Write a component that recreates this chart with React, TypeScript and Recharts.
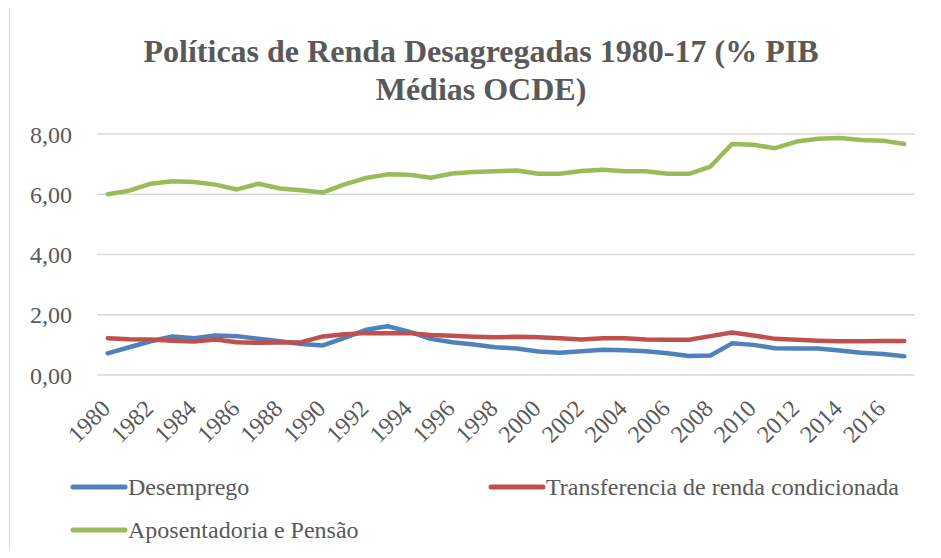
import React from "react";
import { LineChart, Line, XAxis, YAxis, CartesianGrid, Legend } from "recharts";

const years = [
  "1980", "1981", "1982", "1983", "1984", "1985", "1986", "1987", "1988", "1989",
  "1990", "1991", "1992", "1993", "1994", "1995", "1996", "1997", "1998", "1999",
  "2000", "2001", "2002", "2003", "2004", "2005", "2006", "2007", "2008", "2009",
  "2010", "2011", "2012", "2013", "2014", "2015", "2016", "2017",
];

const desemprego = [
  0.72, 0.92, 1.12, 1.28, 1.22, 1.31, 1.29, 1.2, 1.12, 1.03,
  0.98, 1.23, 1.5, 1.62, 1.44, 1.2, 1.09, 1.01, 0.92, 0.88,
  0.78, 0.74, 0.79, 0.84, 0.82, 0.79, 0.72, 0.63, 0.65, 1.05,
  1.0, 0.89, 0.88, 0.88, 0.81, 0.74, 0.7, 0.62,
];

const transferencia = [
  1.22, 1.19, 1.18, 1.14, 1.11, 1.18, 1.09, 1.07, 1.08, 1.09,
  1.28, 1.35, 1.39, 1.39, 1.39, 1.33, 1.3, 1.27, 1.25, 1.27,
  1.25, 1.22, 1.18, 1.22, 1.22, 1.18, 1.17, 1.17, 1.29, 1.41,
  1.31, 1.2, 1.17, 1.14, 1.12, 1.12, 1.13, 1.13,
];

const aposentadoria = [
  6.0, 6.12, 6.35, 6.43, 6.41, 6.32, 6.16, 6.35, 6.19, 6.13,
  6.06, 6.33, 6.54, 6.66, 6.65, 6.55, 6.69, 6.74, 6.76, 6.79,
  6.68, 6.68, 6.77, 6.81, 6.76, 6.76, 6.68, 6.68, 6.92, 7.67,
  7.64, 7.53, 7.75, 7.84, 7.87, 7.8, 7.78, 7.67,
];

const yTicks = [0, 2, 4, 6, 8];

const series = [
  { key: "desemprego", name: "Desemprego", color: "#4f81bd" },
  { key: "transferencia", name: "Transferencia de renda condicionada", color: "#c0504d" },
  { key: "aposentadoria", name: "Aposentadoria e Pensão", color: "#9bbb59" },
];

const data = years.map((year, i) => ({
  year,
  desemprego: desemprego[i],
  transferencia: transferencia[i],
  aposentadoria: aposentadoria[i],
}));

const FONT = '"Liberation Serif", "Times New Roman", serif';
const TEXT = "#595959";

const fmt = (v: number) => v.toFixed(2).replace(".", ",");

// rotated year labels, anchored at their right end
const YearTick = (props: any) => {
  const { x, y, payload } = props;
  const tx = x + 4;
  const ty = y + 27;
  return (
    <text
      x={tx}
      y={ty}
      transform={`rotate(-45, ${tx}, ${ty})`}
      textAnchor="end"
      fill={TEXT}
      fontSize={24}
      fontFamily={FONT}
    >
      {payload.value}
    </text>
  );
};

const legendSpots = [
  { left: 70, top: 475 },
  { left: 488, top: 475 },
  { left: 70, top: 518 },
];

const ChartLegend = () => (
  <div style={{ position: "relative", width: 941, height: 558 }}>
    {series.map((s, i) => (
      <div
        key={s.key}
        style={{
          position: "absolute",
          left: legendSpots[i].left,
          top: legendSpots[i].top,
          display: "flex",
          alignItems: "center",
          height: 24,
          fontFamily: FONT,
          fontSize: 24,
          color: TEXT,
          whiteSpace: "nowrap",
        }}
      >
        <svg width={58} height={8} style={{ display: "block" }}>
          <line x1={3} y1={4} x2={55} y2={4} stroke={s.color} strokeWidth={5} strokeLinecap="round" />
        </svg>
        <span>{s.name}</span>
      </div>
    ))}
  </div>
);

export default function App() {
  return (
    <div
      style={{
        position: "relative",
        width: 941,
        height: 558,
        margin: -8,
        overflow: "hidden",
        background: "#fff",
      }}
    >
      <div
        style={{
          position: "absolute",
          left: -4,
          top: -18,
          fontFamily: FONT,
          fontStyle: "italic",
          fontSize: 24,
          lineHeight: "24px",
          color: "#000",
          whiteSpace: "nowrap",
        }}
      >
        Políticas de renda desagregadas.
      </div>
      <div
        style={{
          position: "absolute",
          left: 9,
          top: 7,
          width: 1100,
          height: 700,
          border: "1px solid #d9d9d9",
        }}
      />
      <div
        style={{
          position: "absolute",
          left: 0,
          top: 32,
          width: 962,
          textAlign: "center",
          fontFamily: FONT,
          fontWeight: "bold",
          fontSize: 32,
          lineHeight: "38px",
          color: TEXT,
        }}
      >
        Políticas de Renda Desagregadas 1980-17 (% PIB
        <br />
        Médias OCDE)
      </div>
      <div style={{ position: "absolute", left: 0, top: 0 }}>
        <LineChart
          width={941}
          height={558}
          data={data}
          margin={{ top: 134, right: 26, left: 0, bottom: 123 }}
        >
          <CartesianGrid vertical={false} stroke="#d9d9d9" strokeWidth={1.5} />
          <XAxis
            dataKey="year"
            interval={1}
            axisLine={false}
            tickLine={false}
            height={60}
            padding={{ left: 10.75, right: 10.75 }}
            tick={<YearTick />}
          />
          <YAxis
            domain={[0, 8]}
            ticks={yTicks}
            width={97}
            axisLine={false}
            tickLine={false}
            tickSize={6}
            tickMargin={19}
            tickFormatter={fmt}
            tick={{ fill: TEXT, fontSize: 24, fontFamily: FONT }}
          />
          {series.map((s) => (
            <Line
              key={s.key}
              type="linear"
              dataKey={s.key}
              name={s.name}
              stroke={s.color}
              strokeWidth={4.5}
              strokeLinecap="round"
              strokeLinejoin="round"
              dot={false}
              activeDot={false}
              isAnimationActive={false}
            />
          ))}
          <Legend
            layout="horizontal"
            verticalAlign="middle"
            wrapperStyle={{ left: 0, top: 0, width: 941, height: 558, pointerEvents: "none" }}
            content={<ChartLegend />}
          />
        </LineChart>
      </div>
    </div>
  );
}
